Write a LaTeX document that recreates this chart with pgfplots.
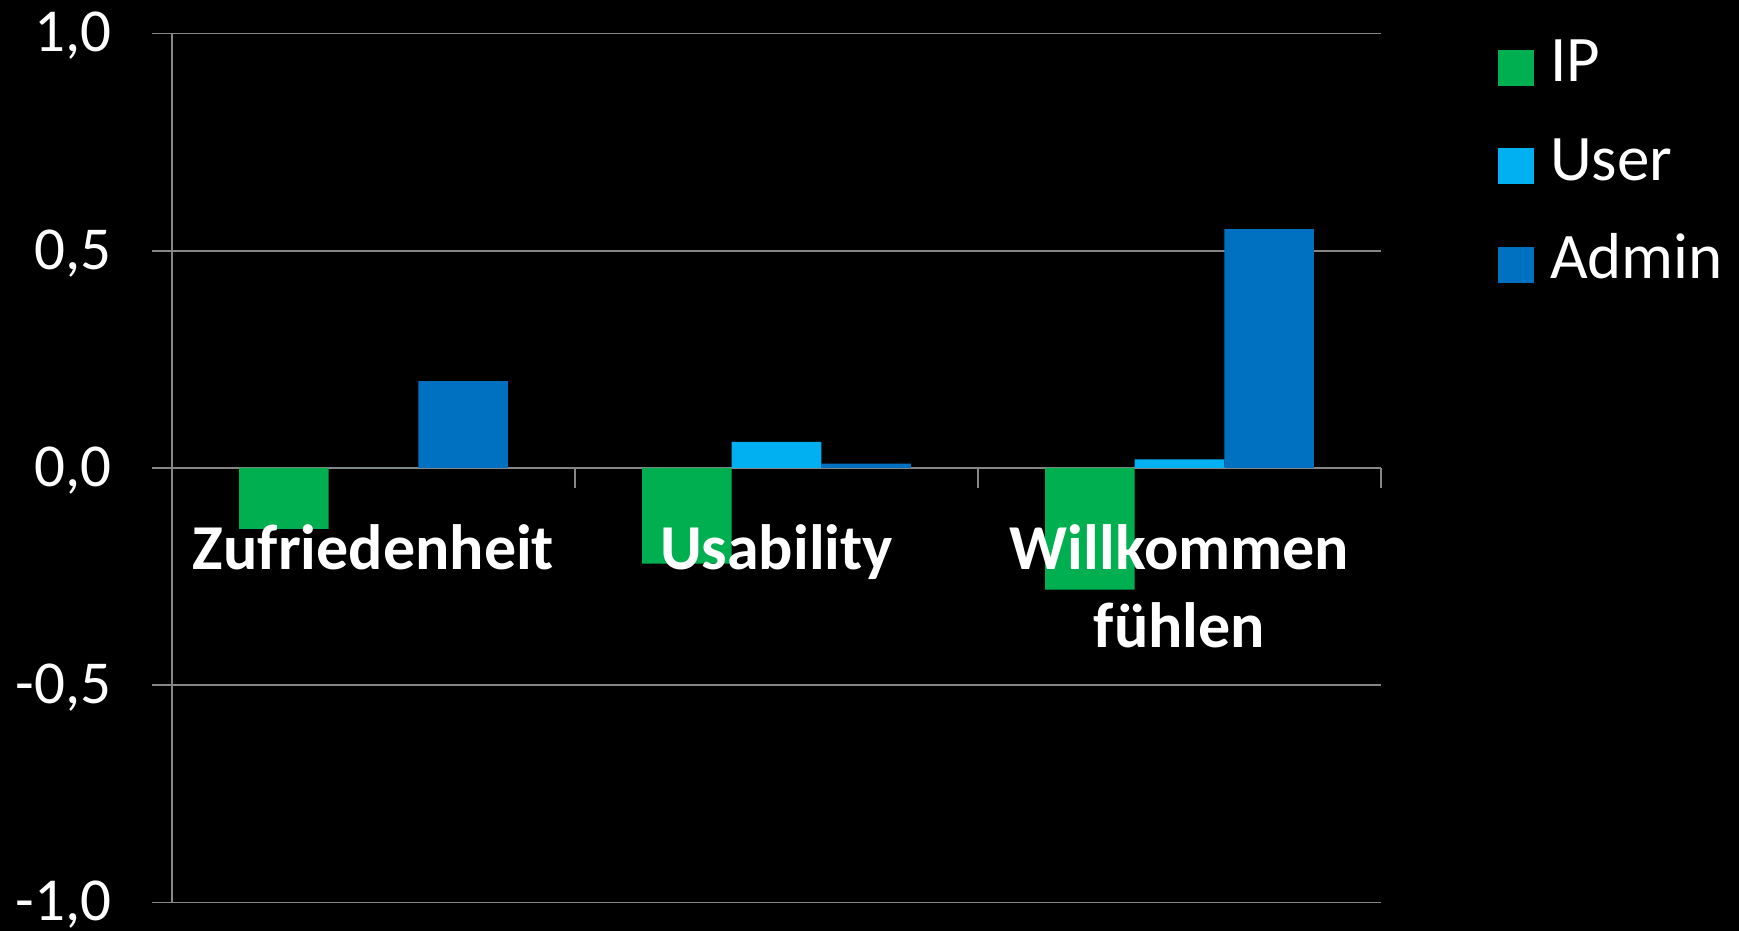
\documentclass[border=0pt]{standalone}
\usepackage{fontspec}
\setmainfont{Carlito}
\usepackage{pgfplots}
\pgfplotsset{compat=1.18}
\definecolor{ipgreen}{RGB}{0,176,80}
\definecolor{userblue}{RGB}{0,176,240}
\definecolor{adminblue}{RGB}{0,112,192}
\definecolor{gridgray}{RGB}{134,134,134}
\pgfplotsset{
  mybar/.style={ybar, bar width=0.2222, draw=none,
    legend image code/.code={\fill[##1] (0pt,-14.3pt) rectangle (18pt,3.7pt);}},
}
\begin{document}
\begin{tikzpicture}
\path[use as bounding box, fill=black] (0,0) rectangle (869.5pt,465.5pt);
\begin{axis}[
  at={(86pt,14.25pt)}, anchor=south west,
  scale only axis, width=604.5pt, height=434.5pt,
  xmin=0, xmax=3, ymin=-1, ymax=1,
  axis x line=middle, axis y line=left,
  axis line style={-, draw=gridgray, line width=0.9pt},
  hide obscured x ticks=false, hide obscured y ticks=false,
  xtick={1,2,3}, xticklabels={},
  ytick={-1,-0.5,0,0.5,1},
  tick align=outside,
  major tick length=10pt,
  tick style={gridgray, line width=0.9pt},
  ymajorgrids, grid style={gridgray, line width=0.9pt},
  yticklabel style={font=\fontsize{30.5}{36}\selectfont, text=white, anchor=base east, inner sep=0pt, xshift=-20pt, yshift=-9.2pt},
  /pgf/number format/fixed, /pgf/number format/fixed zerofill,
  /pgf/number format/precision=1, /pgf/number format/use comma,
  /pgf/number format/assume math mode=true,
  clip=false,
  legend cell align=left,
  legend style={draw=none, fill=none, text=white, font=\fontsize{32.5}{37}\selectfont,
    at={(1.0968,1.004)}, anchor=north west, inner sep=0pt, outer sep=0pt,
    row sep=21.2pt, column sep=8pt, nodes={inner sep=0pt}},
]
\addplot[mybar, fill=ipgreen, bar shift=-0.2222] coordinates {(0.5,-0.14) (1.5,-0.22) (2.5,-0.28)};
\addlegendentry{\strut IP}
\addplot[mybar, fill=userblue, bar shift=0] coordinates {(0.5,0) (1.5,0.06) (2.5,0.02)};
\addlegendentry{\strut User}
\addplot[mybar, fill=adminblue, bar shift=0.2222] coordinates {(0.5,0.20) (1.5,0.01) (2.5,0.55)};
\addlegendentry{\strut Admin}
\node[text=white, font=\fontsize{32}{38}\selectfont\bfseries, anchor=base, yshift=-51pt] at (axis cs:0.5,0) {Zufriedenheit};
\node[text=white, font=\fontsize{32}{38}\selectfont\bfseries, anchor=base, yshift=-51pt] at (axis cs:1.5,0) {Usability};
\node[text=white, font=\fontsize{32}{38}\selectfont\bfseries, anchor=base, yshift=-51pt] at (axis cs:2.5,0) {Willkommen};
\node[text=white, font=\fontsize{32}{38}\selectfont\bfseries, anchor=base, yshift=-89.9pt] at (axis cs:2.5,0) {fühlen};
\end{axis}
\end{tikzpicture}
\end{document}
